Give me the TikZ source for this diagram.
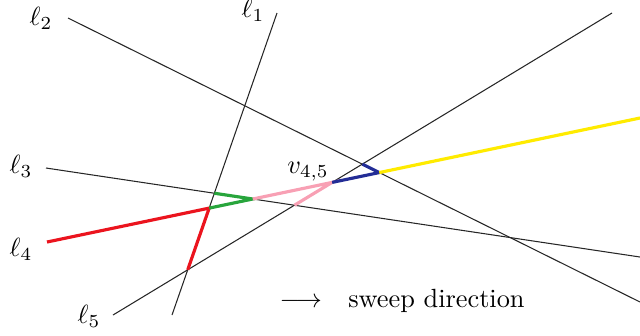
\documentclass[tikz,border=0pt]{standalone}
\usetikzlibrary{calc}
\definecolor{cred}{RGB}{235,20,30}
\definecolor{cgreen}{RGB}{40,165,60}
\definecolor{cpink}{RGB}{248,160,180}
\definecolor{cblue}{RGB}{35,45,150}
\definecolor{cyellow}{RGB}{255,235,0}
\begin{document}
\begin{tikzpicture}[x=0.38pt,y=-0.38pt,
  thinline/.style={draw=black!85,line width=0.4pt},
  thick/.style={line width=1.2pt},
  lbl/.style={inner sep=0pt}]
\useasboundingbox (0,0) rectangle (640,335);
% line end points
\coordinate (a1) at (277,13);  \coordinate (b1) at (172,315);
\coordinate (a2) at (68,18);   \coordinate (b2) at (640,302);
\coordinate (a3) at (46,168);  \coordinate (b3) at (640,257);
\coordinate (a4) at (47,242);  \coordinate (b4) at (640,118);
\coordinate (a5) at (113,315); \coordinate (b5) at (612,13);
% intersections
\coordinate (p14) at (intersection of a1--b1 and a4--b4);
\coordinate (p13) at (intersection of a1--b1 and a3--b3);
\coordinate (p15) at (intersection of a1--b1 and a5--b5);
\coordinate (p34) at (intersection of a3--b3 and a4--b4);
\coordinate (p45) at (intersection of a4--b4 and a5--b5);
\coordinate (p35) at (intersection of a3--b3 and a5--b5);
\coordinate (p24) at (intersection of a2--b2 and a4--b4);
\coordinate (p25) at (intersection of a2--b2 and a5--b5);
% thin lines
\draw[thinline] (a1) -- (b1);
\draw[thinline] (a2) -- (b2);
\draw[thinline] (a3) -- (b3);
\draw[thinline] (a5) -- (b5);
% coloured zone
\draw[thick,cred] (a4) -- (p14) -- (p15);
\draw[thick,cgreen] (p13) -- (p34) -- (p14);
\draw[thick,cpink] (p34) -- (p45) -- (p35);
\draw[thick,cblue] (p45) -- (p24) -- (p25);
\draw[thick,cyellow] (p24) -- (b4);
% labels
\node[lbl] (l1) at (253,10) {$\ell_1$};
\node[lbl] (l2) at (41,18) {$\ell_2$};
\node[lbl] (l3) at (21,166) {$\ell_3$};
\node[lbl] (l4) at (21,249) {$\ell_4$};
\node[lbl] (l5) at (89,316) {$\ell_5$};
\node[lbl] (v45) at (308,172) {$v_{4,5}$};
\node[lbl,anchor=base west] (sweep) at (279,307) {$\longrightarrow$\quad sweep direction};
\end{tikzpicture}
\end{document}
